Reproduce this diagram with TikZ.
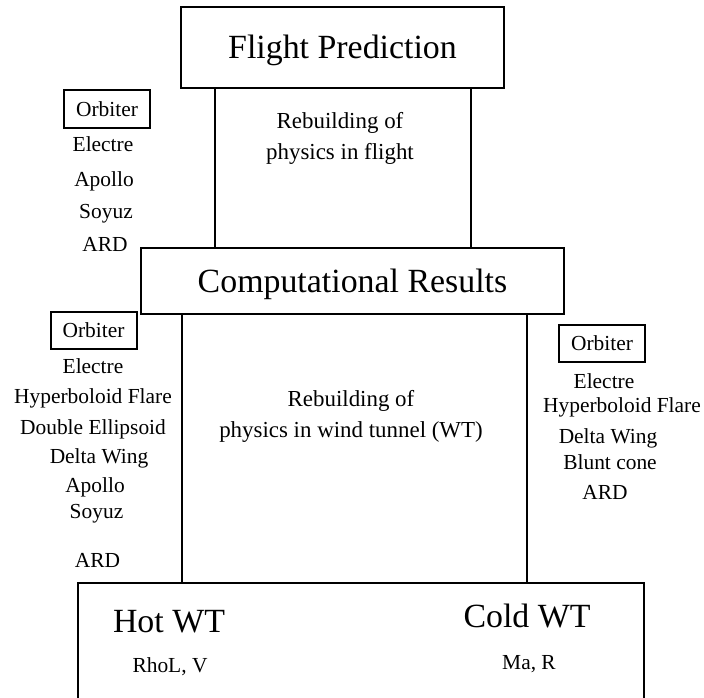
\documentclass[tikz,border=0pt]{standalone}
\usepackage{fontspec}
\setmainfont{Liberation Serif}
\begin{document}
\begin{tikzpicture}[x=1bp,y=-1bp,
    stage/.style={draw,line width=2bp,inner sep=0pt,
        font=\fontsize{34}{40}\selectfont,text height=23bp,text depth=0pt},
    tag/.style={draw,line width=2bp,inner sep=0pt,minimum width=86bp,
        minimum height=37bp,font=\fontsize{21.5}{26}\selectfont},
    case/.style={anchor=base,inner sep=0pt,font=\fontsize{21.5}{26}\selectfont},
    note/.style={anchor=base,inner sep=0pt,align=center,
        font=\fontsize{23}{31}\selectfont},
    big/.style={anchor=base,inner sep=0pt,font=\fontsize{34}{40}\selectfont},
    leg/.style={line width=2bp}]

  \useasboundingbox (0,0) rectangle (704,698);
  \clip (0,0) rectangle (704,698);

  \node[stage,minimum width=323bp,minimum height=81bp] (flight) at (342.5,47.5) {Flight Prediction};
  \node[stage,minimum width=423bp,minimum height=66bp] (comp) at (352.5,281) {Computational Results};
  \node[draw,line width=2bp,minimum width=566bp,minimum height=160bp] (tunnel) at (361,663) {};

  % legs between the stages
  \coordinate (legA) at (215,0);
  \coordinate (legB) at (471,0);
  \coordinate (legC) at (182,0);
  \coordinate (legD) at (527,0);
  \draw[leg] (flight.south -| legA) -- (comp.north -| legA);
  \draw[leg] (flight.south -| legB) -- (comp.north -| legB);
  \draw[leg] (comp.south -| legC) -- (tunnel.north -| legC);
  \draw[leg] (comp.south -| legD) -- (tunnel.north -| legD);

  \node[note] (flightnote) at (340,159) {Rebuilding of\\physics in flight};
  \node[note] (wtnote) at (351,437) {Rebuilding of\\physics in wind tunnel (WT)};

  % flight cases
  \node[tag] (orbA) at (107,109) {Orbiter};
  \node[case] (fl1) at (103,151) {Electre};
  \node[case] (fl2) at (104,186) {Apollo};
  \node[case] (fl3) at (106,218) {Soyuz};
  \node[case] (fl4) at (105,251) {ARD};

  % hot tunnel cases
  \node[tag] (orbB) at (93.5,330.5) {Orbiter};
  \node[case] (hw1) at (93,373) {Electre};
  \node[case] (hw2) at (93,403) {Hyperboloid Flare};
  \node[case] (hw3) at (93,434) {Double Ellipsoid};
  \node[case] (hw4) at (99,463) {Delta Wing};
  \node[case] (hw5) at (95,492) {Apollo};
  \node[case] (hw6) at (96.5,518) {Soyuz};
  \node[case] (hw7) at (97.5,567) {ARD};

  % cold tunnel cases
  \node[tag] (orbC) at (602,343.5) {Orbiter};
  \node[case] (cw1) at (604,388) {Electre};
  \node[case] (cw2) at (622,412) {Hyperboloid Flare};
  \node[case] (cw3) at (608,443) {Delta Wing};
  \node[case] (cw4) at (610,469) {Blunt cone};
  \node[case] (cw5) at (605,499) {ARD};

  \node[big] (hot) at (169,632) {Hot WT};
  \node[big] (cold) at (527,627) {Cold WT};
  \node[case] (hotpar) at (170,672) {RhoL, V};
  \node[case] (coldpar) at (529,669) {Ma, R};

\end{tikzpicture}
\end{document}
